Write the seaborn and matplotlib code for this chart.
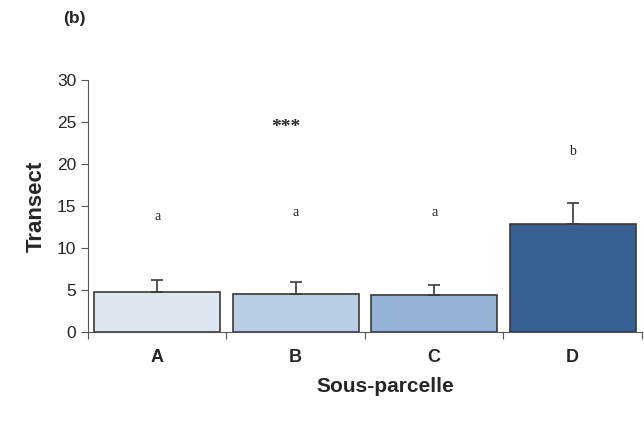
import pandas as pd
import seaborn as sns
import matplotlib.pyplot as plt

# data
categories = ["A", "B", "C", "D"]
means = [4.8, 4.5, 4.4, 12.8]
errors = [1.4, 1.4, 1.2, 2.6]
letters = ["a", "a", "a", "b"]
letter_y = [13.8, 14.2, 14.2, 21.5]
colors = ["#dce6f1", "#b9cde5", "#95b3d7", "#376092"]

df = pd.DataFrame({"cat": categories, "val": means})

sns.set_style("ticks")
plt.rcParams["font.family"] = ["Liberation Sans", "DejaVu Sans"]

fig = plt.figure(figsize=(6.44, 4.32), dpi=100)
ax = fig.add_axes([0.1366, 0.2315, 0.8603, 0.5833])

sns.barplot(data=df, x="cat", y="val", hue="cat", palette=colors, legend=False,
            errorbar=None, width=0.91, saturation=1, edgecolor="#3a3a3a",
            linewidth=1.2, ax=ax)

for p, e in zip(ax.patches, errors):
    xc = p.get_x() + p.get_width() / 2
    ax.errorbar(xc, p.get_height(), yerr=[[0], [e]], fmt="none",
                ecolor="#3a3a3a", elinewidth=1.2, capsize=4, capthick=1.2)

for i, (t, y) in enumerate(zip(letters, letter_y)):
    ax.text(i, y, t, ha="center", va="center", fontsize=10, family="Liberation Serif")
ax.text(0.93, 24.4, "***", ha="center", va="center", fontsize=14, fontweight="bold",
        family="Liberation Serif")

ax.set_xlim(-0.5, 3.5)
ax.set_ylim(0, 30)
ax.set_yticks([0, 5, 10, 15, 20, 25, 30])
ax.set_xticks([0, 1, 2, 3])
ax.set_xticklabels(categories, fontsize=13, fontweight="bold")
ax.tick_params(axis="x", length=0, pad=12)
ax.tick_params(axis="y", labelsize=12.5, length=5, color="#555555", width=0.8)
ax.set_xticks([-0.5, 0.5, 1.5, 2.5, 3.5], minor=True)
ax.tick_params(axis="x", which="minor", length=5, color="#555555", width=0.8, direction="out")

sns.despine(ax=ax, top=True, right=True)
for side in ["left", "bottom"]:
    ax.spines[side].set_color("#555555")
    ax.spines[side].set_linewidth(0.8)

ax.set_ylabel("Transect", fontsize=16, fontweight="bold", labelpad=7)
ax.set_xlabel("")
fig.text(0.598, 1 - 386 / 432, "Sous-parcelle", fontsize=15, fontweight="bold",
         ha="center", va="center")

fig.text(0.098, 0.958, "(b)", fontsize=12.5, fontweight="bold", ha="left", va="center")

fig.savefig("out.png", dpi=100)
